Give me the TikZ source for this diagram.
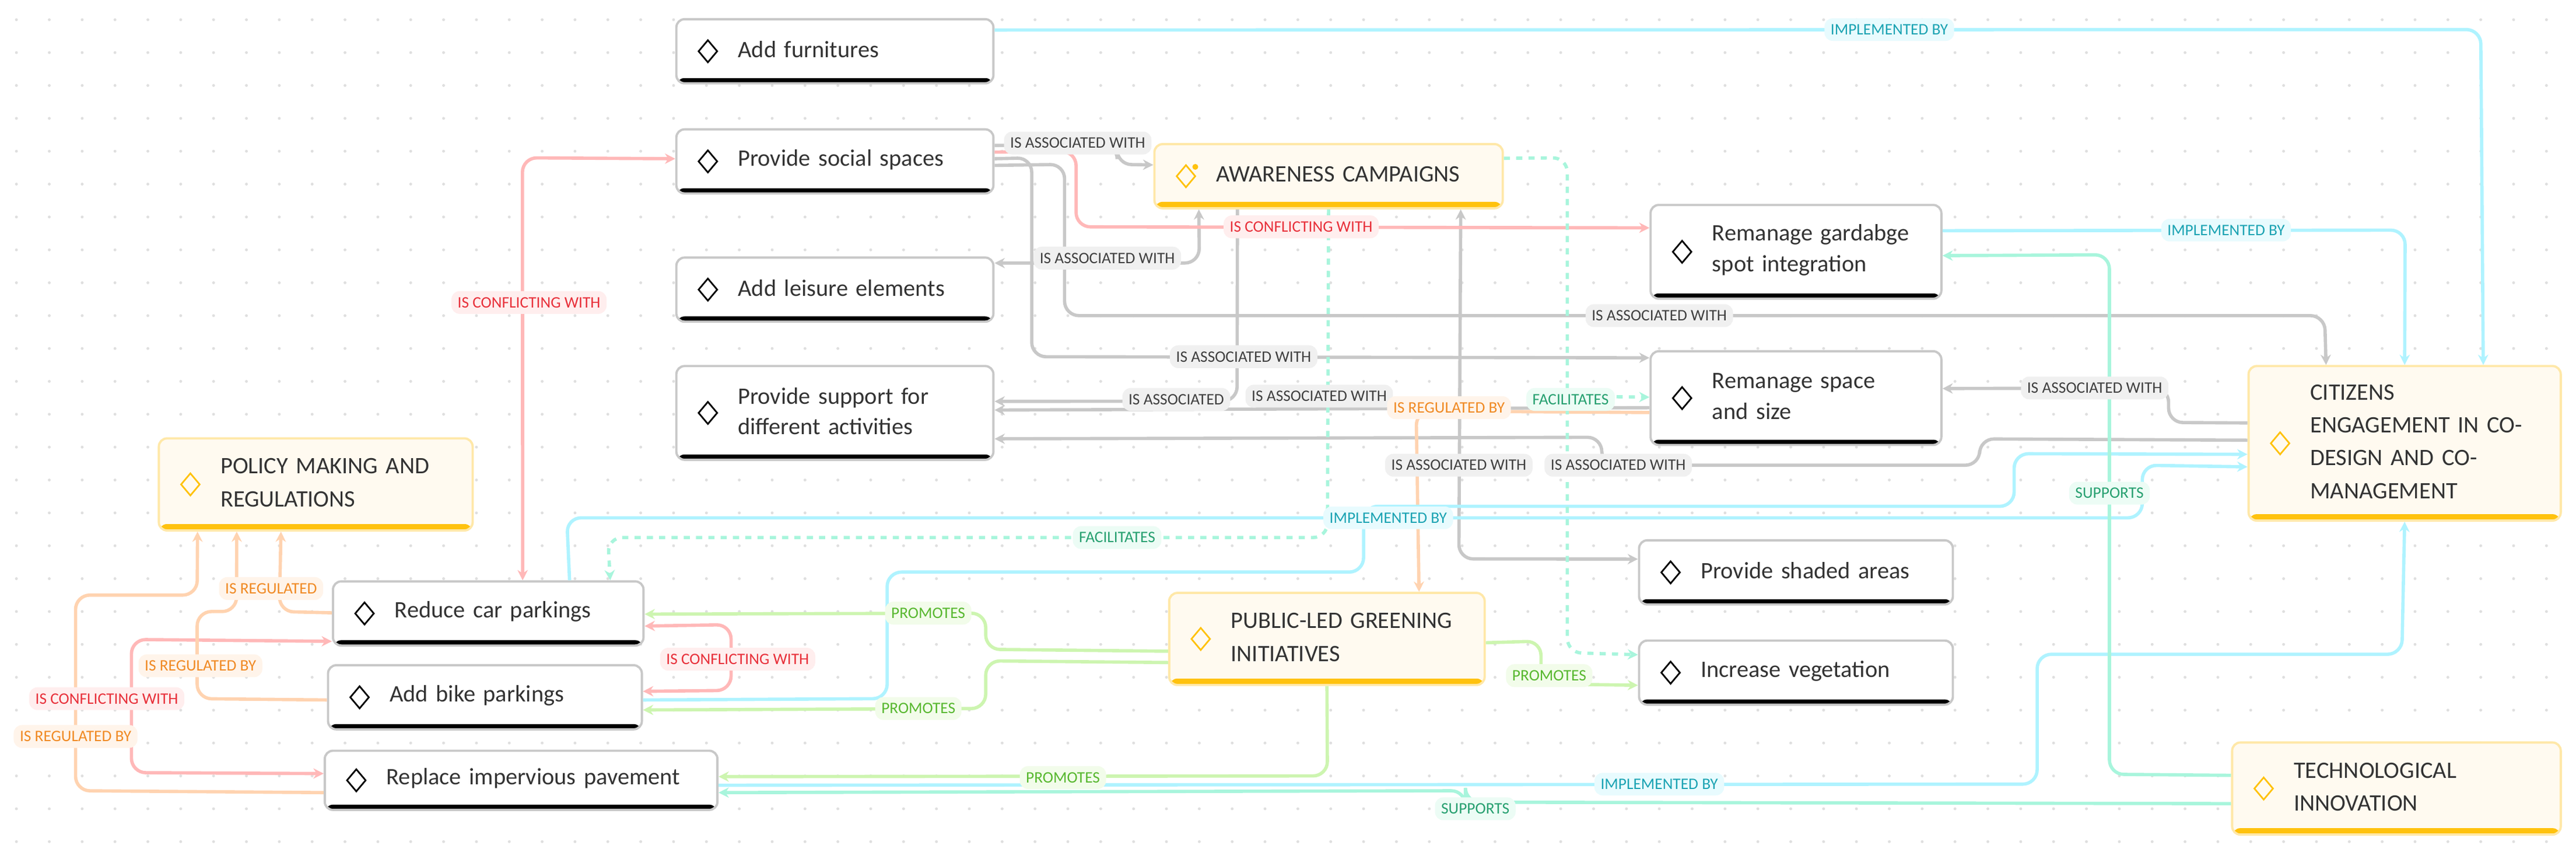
\documentclass[tikz,border=0pt]{standalone}
\usepackage{fontspec}
\setmainfont{Carlito}
\usetikzlibrary{shapes.geometric,arrows.meta,calc}
\definecolor{tx}{HTML}{333333}
\definecolor{gl}{HTML}{C8C8C8}\definecolor{gt}{HTML}{404040}\definecolor{gf}{HTML}{F0F0F0}
\definecolor{rl}{HTML}{FFB8B8}\definecolor{rt}{HTML}{E8303A}\definecolor{rf}{HTML}{FFEEEE}
\definecolor{ol}{HTML}{FFD3B0}\definecolor{ot}{HTML}{F08A24}\definecolor{of}{HTML}{FFF4EA}
\definecolor{cl}{HTML}{AFF3FF}\definecolor{ct}{HTML}{1BA3B3}\definecolor{cf}{HTML}{E8FBFE}
\definecolor{nl}{HTML}{CDF5B0}\definecolor{nt}{HTML}{58B830}\definecolor{nf}{HTML}{F2FCEA}
\definecolor{ml}{HTML}{A8F5DC}\definecolor{mt}{HTML}{27A070}\definecolor{mf}{HTML}{ECFCF5}
\definecolor{yf}{HTML}{FFFAF0}\definecolor{yb}{HTML}{FFE8A8}\definecolor{yy}{HTML}{FFC20E}
\tikzset{
 plain/.style={draw=gl, line width=1.1pt, fill=white, rounded corners=4pt,
   path picture={\fill[black] ([yshift=0.9mm]path picture bounding box.south west) rectangle (path picture bounding box.south east);}},
 yel/.style={draw=yb, line width=1.1pt, fill=yf, rounded corners=4pt,
   path picture={\fill[yy] ([yshift=1.1mm]path picture bounding box.south west) rectangle (path picture bounding box.south east);}},
 diaplain/.style={diamond, draw=black, line width=0.8pt, minimum width=3.3mm, minimum height=3.9mm, inner sep=0pt},
 diayel/.style={diamond, draw=yy, line width=0.8pt, minimum width=3.3mm, minimum height=3.9mm, inner sep=0pt},
 txtplain/.style={text=tx, font=\fontsize{11.5}{15}\selectfont, align=left, inner sep=0pt},
 txtyel/.style={text=tx, font=\fontsize{11.5}{16}\selectfont, align=left, inner sep=0pt},
 e/.style={line width=1.6pt, rounded corners=7pt},
 tip/.style={-{Stealth[length=5pt,width=5pt]}},
 tips/.style={{Stealth[length=5pt,width=5pt]}-{Stealth[length=5pt,width=5pt]}},
 lbl/.style={font=\fontsize{7.8}{9}\selectfont, rounded corners=4pt, inner xsep=3pt, inner ysep=3pt},
 G/.style={e, draw=gl}, R/.style={e, draw=rl}, O/.style={e, draw=ol}, C/.style={e, draw=cl}, N/.style={e, draw=nl}, M/.style={e, draw=ml},
 lG/.style={lbl, fill=gf, text=gt}, lR/.style={lbl, fill=rf, text=rt}, lO/.style={lbl, fill=of, text=ot},
 lC/.style={lbl, fill=cf, text=ct}, lN/.style={lbl, fill=nf, text=nt}, lM/.style={lbl, fill=mf, text=mt},
}
\newcommand\mkbox[7]{%
 \node[#6, minimum width=\dimexpr 0.2817mm*#4\relax, minimum height=\dimexpr 0.2817mm*#5\relax, anchor=north west] (#1) at (#2,#3) {};
 \node[dia#6] at ([xshift=5.6mm]#1.west) {};
 \node[txt#6, anchor=west, text width=\dimexpr 0.2817mm*#4 - 12.5mm\relax] at ([xshift=10.7mm,yshift=0.3mm]#1.west) {#7};}
\begin{document}
\begin{tikzpicture}[x=0.02817cm,y=-0.02817cm]
\fill[white] (0,0) rectangle (1568,518);
\useasboundingbox (0,0) rectangle (1568,518);
\foreach \i in {0,...,78}{\foreach \j in {0,...,25}{\fill[gray!25] (10+20*\i,12+20*\j) circle (0.7pt);}}
% boxes
\mkbox{furn}{411}{11}{193}{39}{plain}{Add furnitures}
\mkbox{social}{411}{78}{193}{39}{plain}{Provide social spaces}
\mkbox{leisure}{411}{156}{193}{39}{plain}{Add leisure elements}
\mkbox{support}{411}{222}{193}{57}{plain}{Provide support for\\different activities}
\mkbox{aware}{702}{87}{212}{39}{yel}{AWARENESS CAMPAIGNS}
\fill[yy] ([xshift=7.2mm,yshift=1.6mm]aware.west) circle (0.5mm);
\mkbox{garb}{1004}{124}{177}{57}{plain}{Remanage gardabge\\spot integration}
\mkbox{space}{1004}{213}{177}{57}{plain}{Remanage space\\and size}
\mkbox{cit}{1368}{222}{190}{94}{yel}{CITIZENS\\ENGAGEMENT IN CO-\\DESIGN AND CO-\\MANAGEMENT}
\mkbox{policy}{96}{266}{191}{56}{yel}{POLICY MAKING AND\\REGULATIONS}
\mkbox{car}{202}{353}{189}{39}{plain}{Reduce car parkings}
\mkbox{bike}{199}{404}{191}{39}{plain}{Add bike parkings}
\mkbox{pave}{197}{456}{239}{36}{plain}{Replace impervious pavement}
\mkbox{green}{711}{360}{192}{56}{yel}{PUBLIC-LED GREENING\\INITIATIVES}
\mkbox{shaded}{997}{328}{191}{39}{plain}{Provide shaded areas}
\mkbox{veg}{997}{389}{191}{39}{plain}{Increase vegetation}
\mkbox{tech}{1358}{451}{200}{56}{yel}{TECHNOLOGICAL\\INNOVATION}
% gray edges
\draw[G,tip] ($(social.north east)!0.26!(social.south east)$) -- (650,88) -- (680,88) -- (680,100) -- ($(aware.north west)!0.33!(aware.south west)$);
\draw[G,tips] ($(leisure.north east)!0.1!(leisure.south east)$) -- (730,160) -- ($(aware.south west)!0.13!(aware.south east)$);
\draw[G,tip] ($(social.north east)!0.56!(social.south east)$) -- (648,100) -- (648,192) -- (1415,192) -- ($(cit.north west)!0.25!(cit.north east)$);
\draw[G,tip] ($(social.north east)!0.46!(social.south east)$) -- (628,96) -- (628,217) -- ($(space.north west)!0.08!(space.south west)$);
\draw[G,tip] ($(aware.south west)!0.24!(aware.south east)$) -- (753,244) -- ($(support.north east)!0.38!(support.south east)$);
\draw[G,tip] ($(space.north west)!0.6!(space.south west)$) -- ($(support.north east)!0.47!(support.south east)$);
\draw[G,tip] ($(cit.north west)!0.48!(cit.south west)$) -- (1205,267) -- (1205,283) -- (975,283) -- (975,266) -- ($(support.north east)!0.77!(support.south east)$);
\draw[G,tips] ($(aware.south west)!0.877!(aware.south east)$) -- (888,340) -- ($(shaded.north west)!0.3!(shaded.south west)$);
\draw[G,tip] ($(cit.north west)!0.37!(cit.south west)$) -- (1320,257) -- (1320,236) -- ($(space.north east)!0.4!(space.south east)$);
% red
\draw[R,tip] ($(social.north east)!0.36!(social.south east)$) -- (655,92) -- (655,138) -- ($(garb.north west)!0.25!(garb.south west)$);
\draw[R,tips] ($(social.north west)!0.46!(social.south west)$) -- (318,96) -- ($(car.north west)!0.61!(car.north east)$);
\draw[R,tips] ($(car.north east)!0.69!(car.south east)$) -- (445,380) -- (445,420) -- ($(bike.north east)!0.41!(bike.south east)$);
\draw[R,tips] ($(car.north west)!0.92!(car.south west)$) -- (80,389) -- (80,470) -- ($(pave.north west)!0.39!(pave.south west)$);
% orange
\draw[O,tip] ($(space.north west)!0.65!(space.south west)$) -- (862,250) -- ($(green.north west)!0.79!(green.north east)$);
\draw[O,tip] ($(pave.north west)!0.7!(pave.south west)$) -- (46,481) -- (46,362) -- (120,362) -- ($(policy.south west)!0.126!(policy.south east)$);
\draw[O,tip] ($(bike.north west)!0.54!(bike.south west)$) -- (120,425) -- (120,372) -- (144,372) -- ($(policy.south west)!0.25!(policy.south east)$);
\draw[O,tip] ($(car.north west)!0.49!(car.south west)$) -- (170,372) -- ($(policy.south west)!0.39!(policy.south east)$);
% cyan
\draw[C,tip] ($(furn.north east)!0.18!(furn.south east)$) -- (1510,18) -- ($(cit.north west)!0.75!(cit.north east)$);
\draw[C,tip] ($(garb.north east)!0.28!(garb.south east)$) -- (1464,140) -- ($(cit.north west)!0.5!(cit.north east)$);
\draw[C,tip] ($(car.north west)!0.76!(car.north east)$) -- (345,315) -- (1304,315) -- (1304,283) -- ($(cit.north west)!0.65!(cit.south west)$);
\draw[C,tip] ($(bike.north east)!0.54!(bike.south east)$) -- (540,425) -- (540,348) -- (830,348) -- (830,308) -- (1226,308) -- (1226,276) -- ($(cit.north west)!0.57!(cit.south west)$);
\draw[C,tip] ($(pave.north east)!0.58!(pave.south east)$) -- (1240,477) -- (1240,398) -- (1462,398) -- ($(cit.south west)!0.5!(cit.south east)$);
% mint
\draw[M,tip] ($(tech.north west)!0.36!(tech.south west)$) -- (1284,471) -- (1284,155) -- ($(garb.north east)!0.54!(garb.south east)$);
\draw[M,tip] ($(tech.north west)!0.66!(tech.south west)$) -- (892,488) -- (892,481) -- ($(pave.north east)!0.7!(pave.south east)$);
\draw[M,dashed,tip,rounded corners=7pt] ($(aware.north east)!0.23!(aware.south east)$) -- (954,96) -- (954,397) -- ($(veg.north west)!0.23!(veg.south west)$);
\draw[M,dashed,tip] (954,241) -- ($(space.north west)!0.49!(space.south west)$);
\draw[M,dashed,tip] ($(aware.south west)!0.5!(aware.south east)$) -- (808,327) -- (370,327) -- ($(car.north west)!0.89!(car.north east)$);
% green
\draw[N,tip] ($(green.south west)!0.5!(green.south east)$) -- (808,472) -- ($(pave.north east)!0.44!(pave.south east)$);
\draw[N,tip] ($(green.north west)!0.63!(green.south west)$) -- (600,395) -- (600,373) -- ($(car.north east)!0.51!(car.south east)$);
\draw[N,tip] ($(green.north west)!0.75!(green.south west)$) -- (600,402) -- (600,431) -- ($(bike.north east)!0.69!(bike.south east)$);
\draw[N,tip] ($(green.north east)!0.54!(green.south east)$) -- (938,390) -- (938,416) -- ($(veg.north west)!0.69!(veg.south west)$);
% labels
\node[lC] (l1) at (1150,18) {IMPLEMENTED BY};
\node[lG] (l2) at (656,87) {IS ASSOCIATED WITH};
\node[lR] (l3) at (792,138) {IS CONFLICTING WITH};
\node[lG] (l4) at (674,157) {IS ASSOCIATED WITH};
\node[lG] (l5) at (1010,192) {IS ASSOCIATED WITH};
\node[lG] (l6) at (757,217) {IS ASSOCIATED WITH};
\node[lG] (l7) at (716,243) {IS ASSOCIATED};
\node[lG] (l8) at (803,241) {IS ASSOCIATED WITH};
\node[lO] (l13) at (882,248) {IS REGULATED BY};
\node[lM] (l11) at (956,243) {FACILITATES};
\node[lG] (l9) at (985,283) {IS ASSOCIATED WITH};
\node[lG] (l10) at (888,283) {IS ASSOCIATED WITH};
\node[lG] (l14) at (1275,236) {IS ASSOCIATED WITH};
\node[lC] (l31) at (1355,140) {IMPLEMENTED BY};
\node[lC] (l16) at (845,315) {IMPLEMENTED BY};
\node[lM] (l12) at (680,327) {FACILITATES};
\node[lM] (l15) at (1284,300) {SUPPORTS};
\node[lR] (l25) at (322,184) {IS CONFLICTING WITH};
\node[lO] (l29) at (165,358) {IS REGULATED};
\node[lN] (l21) at (565,373) {PROMOTES};
\node[lR] (l24) at (449,401) {IS CONFLICTING WITH};
\node[lO] (l28) at (122,405) {IS REGULATED BY};
\node[lR] (l26) at (65,425) {IS CONFLICTING WITH};
\node[lN] (l22) at (559,431) {PROMOTES};
\node[lN] (l23) at (943,411) {PROMOTES};
\node[lO] (l27) at (46,448) {IS REGULATED BY};
\node[lN] (l20) at (647,473) {PROMOTES};
\node[lC] (l18) at (1010,477) {IMPLEMENTED BY};
\node[lM] (l19) at (898,492) {SUPPORTS};
\end{tikzpicture}
\end{document}
